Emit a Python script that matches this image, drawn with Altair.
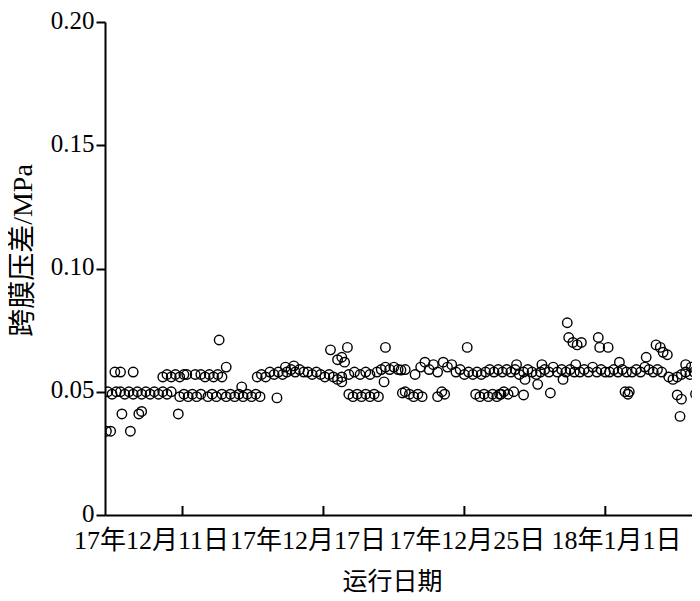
import altair as alt
import pandas as pd

# run time (days from start of record) and transmembrane pressure (MPa)
run_day = [
    0.1, 0.4, 1.8, 0.7, 1.1, 2.0, 1.2, 2.4, 2.6,
    0.2, 0.5, 0.8, 1.1, 1.4, 1.7, 2.0, 2.3, 2.6, 2.9, 3.2, 3.5, 3.8, 4.1, 4.4, 4.7,
    5.2,
    4.1, 4.4, 4.7, 5.0, 5.3, 5.6, 5.8, 6.4, 6.8, 7.1, 7.4, 7.7, 8.0, 8.3, 8.6,
    5.3, 5.6, 5.9, 6.2, 6.5, 6.8, 7.3, 7.6, 7.9, 8.3, 8.6, 8.9, 9.2, 9.5, 9.8, 10.1, 10.4, 10.7, 11.0, 9.7,
    8.1, 12.2,
    10.8, 11.1, 11.4, 11.7, 12.0, 12.3, 12.6, 12.9, 13.2, 13.5, 13.8, 14.1, 12.8, 13.4,
    14.4, 14.7, 15.0, 15.3, 15.6, 15.9, 16.2, 16.5, 16.8,
    16.0, 17.2, 16.5, 16.8, 17.0, 16.8,
    17.3, 17.7, 18.1, 18.5, 18.8, 19.9,
    19.3, 19.6, 19.9, 20.2, 20.5, 20.8, 19.8,
    17.3, 17.6, 17.9, 18.2, 18.5, 18.8, 19.1, 19.4, 21.1,
    21.0, 21.3, 22.0, 22.4, 22.7, 23.0, 23.3, 23.6, 24.0, 24.3, 24.6, 24.9, 25.2, 25.7,
    25.5, 25.8, 26.1, 26.4, 26.7, 27.0, 27.3, 27.6, 27.9, 28.2, 28.5,
    21.3, 21.6, 21.9, 22.2, 22.5, 23.6, 23.9, 24.1, 26.3, 26.6, 26.9, 27.2, 27.5, 27.8, 28.1,
    32.8, 32.9, 33.2, 33.5, 33.8, 35.0, 35.1,
    28.8, 29.1, 29.4, 29.7, 30.0, 30.3, 30.6, 30.9, 31.2, 31.5, 31.8, 32.1, 32.4, 32.7, 33.0, 33.3,
    29.2, 31.0, 33.4, 29.8, 32.5,
    30.7, 31.6, 28.0, 28.3, 28.6, 29.0, 29.7,
    33.7, 34.0, 34.3, 34.6, 34.9, 35.2, 35.5, 35.7,
    35.8, 36.1, 36.4, 36.7, 37.0, 36.5,
    37.4, 37.7, 38.0, 38.3, 38.6, 38.9, 39.2, 39.5, 38.4,
    39.1, 39.4, 39.6, 39.9, 36.9, 37.1, 37.2,
    40.0, 40.3, 40.6, 40.9, 41.2, 41.5, 41.8,
    40.6, 40.9, 41.9, 40.8, 41.2, 41.6,
]
tmp_mpa = [
    0.034, 0.034, 0.034, 0.058, 0.058, 0.058, 0.041, 0.041, 0.042,
    0.050, 0.049, 0.050, 0.050, 0.049, 0.050, 0.049, 0.050, 0.049, 0.050, 0.049, 0.050, 0.049, 0.050, 0.049, 0.050,
    0.041,
    0.056, 0.057, 0.056, 0.057, 0.056, 0.057, 0.057, 0.057, 0.057, 0.056, 0.057, 0.056, 0.057, 0.056, 0.060,
    0.048, 0.049, 0.048, 0.049, 0.048, 0.049, 0.048, 0.049, 0.048, 0.049, 0.048, 0.049, 0.048, 0.049, 0.048, 0.049, 0.048, 0.049, 0.048, 0.052,
    0.071, 0.0475,
    0.056, 0.057, 0.056, 0.058, 0.057, 0.058, 0.057, 0.058, 0.059, 0.058, 0.059, 0.058, 0.060, 0.0605,
    0.058, 0.057, 0.058, 0.057, 0.056, 0.057, 0.056, 0.055, 0.056,
    0.067, 0.068, 0.063, 0.064, 0.062, 0.054,
    0.057, 0.058, 0.057, 0.058, 0.057, 0.068,
    0.058, 0.059, 0.060, 0.059, 0.060, 0.059, 0.054,
    0.049, 0.048, 0.049, 0.048, 0.049, 0.048, 0.049, 0.048, 0.0495,
    0.0588, 0.059, 0.057, 0.060, 0.062, 0.059, 0.061, 0.058, 0.062, 0.060, 0.061, 0.058, 0.059, 0.068,
    0.057, 0.058, 0.057, 0.058, 0.057, 0.058, 0.059, 0.058, 0.059, 0.058, 0.059,
    0.050, 0.049, 0.048, 0.049, 0.048, 0.048, 0.050, 0.049, 0.049, 0.048, 0.049, 0.048, 0.049, 0.048, 0.049,
    0.078, 0.072, 0.070, 0.069, 0.070, 0.072, 0.068,
    0.058, 0.059, 0.057, 0.058, 0.059, 0.058, 0.057, 0.058, 0.059, 0.058, 0.060, 0.058, 0.059, 0.058, 0.059, 0.058,
    0.061, 0.061, 0.061, 0.055, 0.055,
    0.053, 0.0495, 0.049, 0.050, 0.049, 0.050, 0.0487,
    0.058, 0.059, 0.058, 0.060, 0.058, 0.059, 0.058, 0.068,
    0.058, 0.059, 0.058, 0.059, 0.058, 0.062,
    0.058, 0.059, 0.058, 0.060, 0.059, 0.058, 0.059, 0.058, 0.064,
    0.069, 0.068, 0.066, 0.065, 0.050, 0.049, 0.050,
    0.056, 0.055, 0.056, 0.057, 0.058, 0.057, 0.058,
    0.0487, 0.047, 0.049, 0.040, 0.061, 0.060,
]

# x-axis ticks (positions in run days) and their date labels
tick_pos = [5.5, 15.5, 25.5, 35.5]
tick_labels = ["17年12月11日", "17年12月17日", "17年12月25日", "18年1月1日"]
# the labels in the original sit slightly off their ticks
label_pos = [3.3, 14.4, 25.7, 36.3]
y_ticks = [0, 0.05, 0.10, 0.15, 0.20]

df = pd.DataFrame({"day": run_day, "tmp": tmp_mpa})
ticks_df = pd.DataFrame({"day": tick_pos})
labels_df = pd.DataFrame({"day": label_pos, "label": tick_labels})

FONT_LATIN = "Liberation Serif"
FONT_MIX = "Liberation Serif, Noto Sans CJK SC"

x_scale = alt.Scale(domain=[0, 41.65], nice=False, zero=False)
y_scale = alt.Scale(domain=[0, 0.2], nice=False)

points = alt.Chart(df).mark_point(
    shape="circle", filled=False, size=90, strokeWidth=1.4, color="black",
    opacity=1, clip=True
).encode(
    x=alt.X("day:Q", scale=x_scale, axis=alt.Axis(
        values=tick_pos, labels=False, ticks=False,
        domainColor="black", domainWidth=2, grid=False,
        title="运行日期", titleFont=FONT_MIX, titleFontSize=25,
        titleFontWeight="normal", titleColor="black",
        titleBaseline="middle", titleY=66, titleX=287,
    )),
    y=alt.Y("tmp:Q", scale=y_scale, axis=alt.Axis(
        values=y_ticks,
        labelExpr="datum.value == 0 ? '0' : format(datum.value, '.2f')",
        labelFont=FONT_LATIN, labelFontSize=25, labelColor="black",
        labelPadding=2, tickSize=9, tickWidth=2, tickColor="black",
        domainColor="black", domainWidth=2, grid=False, labelFlush=False,
        labelBaseline="middle", labelOffset=-2,
        title="跨膜压差/MPa", titleFont=FONT_MIX, titleFontSize=28,
        titleFontWeight="normal", titleColor="black",
        titleX=-82, titleY=228, titleBaseline="middle", titleAlign="center",
    )),
)

tick_marks = alt.Chart(ticks_df).mark_rule(color="black", strokeWidth=2).encode(
    x=alt.X("day:Q", scale=x_scale),
    y=alt.value(493),
    y2=alt.value(484),
)

tick_text = alt.Chart(labels_df).mark_text(
    font=FONT_MIX, fontSize=26, color="black", baseline="middle", align="center"
).encode(
    x=alt.X("day:Q", scale=x_scale),
    y=alt.value(519),
    text="label:N",
)

chart = alt.layer(points, tick_marks, tick_text).properties(
    width=587, height=493,
    padding={"left": 97, "top": 14, "right": 0, "bottom": 78},
    autosize=alt.AutoSizeParams(type="none"),
    background="white",
).configure_view(stroke=None)

chart.save("out.html", embed_options={"renderer": "svg", "actions": False})
